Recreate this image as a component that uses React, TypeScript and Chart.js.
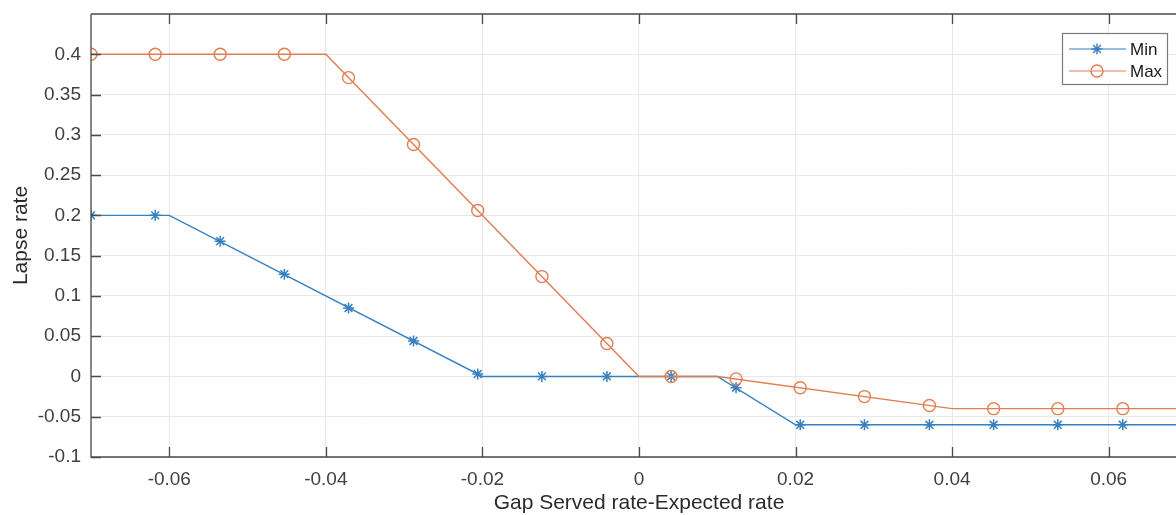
import React, { useEffect, useRef } from 'react';
import { Chart, registerables } from 'chart.js';

Chart.register(...registerables);

// Tick values
const xTicks = [-0.06, -0.04, -0.02, 0, 0.02, 0.04, 0.06];
const yTicks = [-0.1, -0.05, 0, 0.05, 0.1, 0.15, 0.2, 0.25, 0.3, 0.35, 0.4];

// Line vertices
const minLineX = [-0.07, -0.06, -0.02, 0.01, 0.02, 0.07];
const minLineY = [0.2, 0.2, 0, 0, -0.06, -0.06];
const maxLineX = [-0.07, -0.04, 0, 0.01, 0.04, 0.07];
const maxLineY = [0.4, 0.4, 0, 0, -0.04, -0.04];

// Marker positions
const markerX = [
  -0.07, -0.0618, -0.0535, -0.0453, -0.0371, -0.0288, -0.0206, -0.0124, -0.0041,
  0.0041, 0.0124, 0.0206, 0.0288, 0.0371, 0.0453, 0.0535, 0.0618, 0.07,
];
const minMarkerY = [
  0.2, 0.2, 0.168, 0.127, 0.085, 0.044, 0.003, 0, 0,
  0, -0.014, -0.06, -0.06, -0.06, -0.06, -0.06, -0.06, -0.06,
];
const maxMarkerY = [
  0.4, 0.4, 0.4, 0.4, 0.371, 0.288, 0.206, 0.124, 0.041,
  0, -0.003, -0.014, -0.025, -0.036, -0.04, -0.04, -0.04, -0.04,
];

const seriesNames = ['Min', 'Max'];
const xTitle = 'Gap Served rate-Expected rate';
const yTitle = 'Lapse rate';

const BLUE = '#3580c0';
const ORANGE = '#e07e52';
const AXIS = '#4a4a4a';
const FONT = "'Liberation Sans', Arial, Helvetica, sans-serif";

const zip = (xs: number[], ys: number[]) => xs.map((x, i) => ({ x, y: ys[i] }));
const fmt = (v: number) => String(Math.round(v * 1000) / 1000);

const boxPlugin = {
  id: 'matlabBox',
  afterDraw(chart: any) {
    const { ctx, chartArea, scales } = chart;
    const { left, right, top, bottom } = chartArea;
    ctx.save();
    ctx.strokeStyle = AXIS;
    ctx.lineWidth = 1.3;
    ctx.beginPath();
    ctx.moveTo(left, top);
    ctx.lineTo(right + 2, top);
    ctx.moveTo(left, top);
    ctx.lineTo(left, bottom);
    ctx.lineTo(right + 2, bottom);
    xTicks.forEach((v) => {
      const px = Math.round(scales.x.getPixelForValue(v)) + 0.5;
      ctx.moveTo(px, bottom);
      ctx.lineTo(px, bottom - 10);
      ctx.moveTo(px, top);
      ctx.lineTo(px, top + 10);
    });
    yTicks.forEach((v) => {
      const py = Math.round(scales.y.getPixelForValue(v)) + 0.5;
      ctx.moveTo(left, py);
      ctx.lineTo(left + 10, py);
    });
    ctx.stroke();

    // X axis title, centred on the full data range
    const cxTitle = (scales.x.getPixelForValue(-0.07) + scales.x.getPixelForValue(0.07)) / 2;
    ctx.fillStyle = '#2b2b2b';
    ctx.font = `21px ${FONT}`;
    ctx.textAlign = 'center';
    ctx.textBaseline = 'middle';
    ctx.fillText(xTitle, cxTitle, 503);

    // Legend
    const bx = right - 114;
    const by = top + 19;
    const bw = 105;
    const bh = 51;
    ctx.fillStyle = '#ffffff';
    ctx.fillRect(bx, by, bw, bh);
    ctx.strokeStyle = '#7a7a7a';
    ctx.lineWidth = 1.2;
    ctx.strokeRect(bx + 0.5, by + 0.5, bw, bh);

    const rows = [by + 16, by + 38];
    const colors = [BLUE, ORANGE];
    rows.forEach((ry, i) => {
      ctx.strokeStyle = colors[i];
      ctx.lineWidth = 1.2;
      ctx.beginPath();
      ctx.moveTo(bx + 7, ry);
      ctx.lineTo(bx + 64, ry);
      ctx.stroke();
      const cx = bx + 35;
      ctx.lineWidth = 1.4;
      ctx.beginPath();
      if (i === 0) {
        const r = 5.5;
        for (let k = 0; k < 4; k++) {
          const a = (k * Math.PI) / 4;
          ctx.moveTo(cx - r * Math.cos(a), ry - r * Math.sin(a));
          ctx.lineTo(cx + r * Math.cos(a), ry + r * Math.sin(a));
        }
      } else {
        ctx.arc(cx, ry, 6, 0, Math.PI * 2);
      }
      ctx.stroke();
      ctx.fillStyle = '#1a1a1a';
      ctx.font = `17px ${FONT}`;
      ctx.textBaseline = 'middle';
      ctx.textAlign = 'left';
      ctx.fillText(seriesNames[i], bx + 68, ry + 1);
    });
    ctx.restore();
  },
};

export default function App() {
  const canvasRef = useRef<HTMLCanvasElement | null>(null);

  useEffect(() => {
    if (!canvasRef.current) return;
    const chart = new Chart(canvasRef.current, {
      type: 'line',
      data: {
        datasets: [
          {
            label: 'Max markers',
            data: zip(markerX, maxMarkerY),
            showLine: false,
            pointStyle: 'circle',
            pointRadius: 6,
            pointBorderWidth: 1.4,
            pointBorderColor: ORANGE,
            pointBackgroundColor: 'rgba(0,0,0,0)',
            borderColor: ORANGE,
            order: 0,
          },
          {
            label: 'Max',
            data: zip(maxLineX, maxLineY),
            borderColor: ORANGE,
            borderWidth: 1.4,
            pointRadius: 0,
            tension: 0,
            fill: false,
            order: 1,
          },
          {
            label: 'Min markers',
            data: zip(markerX, minMarkerY),
            showLine: false,
            pointStyle: 'star',
            pointRadius: 5.5,
            pointBorderWidth: 1.5,
            pointBorderColor: BLUE,
            pointBackgroundColor: BLUE,
            borderColor: BLUE,
            order: 2,
          },
          {
            label: 'Min',
            data: zip(minLineX, minLineY),
            borderColor: BLUE,
            borderWidth: 1.4,
            pointRadius: 0,
            tension: 0,
            fill: false,
            order: 3,
          },
        ],
      },
      options: {
        animation: false,
        responsive: false,
        layout: { autoPadding: false, padding: { top: 14, right: 0, left: 0, bottom: 0 } },
        plugins: {
          legend: { display: false },
          tooltip: { enabled: false },
        },
        scales: {
          x: {
            type: 'linear',
            min: -0.07,
            max: 0.0686,
            afterBuildTicks: (s: any) => {
              s.ticks = xTicks.map((v) => ({ value: v }));
            },
            afterFit: (s: any) => {
              s.height = 58;
              s.paddingLeft = 0;
              s.paddingRight = 0;
            },
            ticks: {
              callback: (v: any) => fmt(Number(v)),
              font: { family: FONT, size: 19 },
              color: '#404040',
              padding: 11,
              maxRotation: 0,
              autoSkip: false,
            },
            grid: { color: '#e8e8e8', lineWidth: 1, drawTicks: false },
            border: { display: false },
            title: { display: false },
          },
          y: {
            type: 'linear',
            min: -0.1,
            max: 0.45,
            afterBuildTicks: (s: any) => {
              s.ticks = yTicks.map((v) => ({ value: v }));
            },
            afterFit: (s: any) => {
              s.width = 91;
              s.paddingTop = 0;
              s.paddingBottom = 0;
            },
            ticks: {
              callback: (v: any) => fmt(Number(v)),
              font: { family: FONT, size: 19 },
              color: '#404040',
              padding: 10,
              autoSkip: false,
            },
            grid: { color: '#e8e8e8', lineWidth: 1, drawTicks: false },
            border: { display: false },
            title: {
              display: true,
              text: yTitle,
              font: { family: FONT, size: 21 },
              color: '#2b2b2b',
              padding: { top: 9, bottom: 0 },
            },
          },
        },
      },
      plugins: [boxPlugin],
    } as any);
    return () => chart.destroy();
  }, []);

  return (
    <div style={{ position: 'absolute', left: 0, top: 0, width: 1176, height: 515, background: '#fff' }}>
      <canvas ref={canvasRef} width={1176} height={515} style={{ display: 'block' }} />
    </div>
  );
}
